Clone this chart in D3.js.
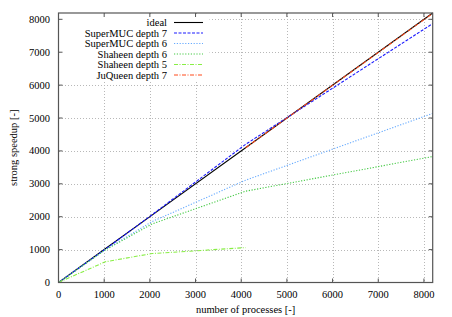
<!DOCTYPE html>
<meta charset="utf-8">
<html>
<head>
<style>
body { margin: 0; background: #fff; }
text { font-family: "Liberation Serif", serif; font-size: 10.5px; fill: #000; }
.grid line { stroke: #b8b8b8; stroke-width: 1; stroke-dasharray: 1,2; shape-rendering: crispEdges; }
.frame { fill: none; stroke: #555; stroke-width: 1.2; }
.tick-mark { stroke: #555; stroke-width: 1; }
.series { fill: none; stroke-width: 1.1; }
</style>
<script src="https://d3js.org/d3.v7.min.js"></script>
</head>
<body>
<svg width="452" height="317"></svg>
<script>
// values
var processes = [1, 1024, 2048, 4096, 8192];
var ideal = [1, 1024, 2048, 4096, 8192];
var superMUC7 = [1, 1010, 2060, 4200, 7870];
var superMUC6 = [1, 1000, 1850, 3110, 5140];
var shaheen6 = [1, 990, 1780, 2775, 3830];
var shaheen5 = [1, 630, 880, 1060];
var juqueenProcs = [4096, 8192];
var juqueen7 = [4096, 8180];
var xTicks = [0, 1000, 2000, 3000, 4000, 5000, 6000, 7000, 8000];
var yTicks = [0, 1000, 2000, 3000, 4000, 5000, 6000, 7000, 8000];

var series = [
  {name: "ideal", x: processes, y: ideal, color: "#000", dash: null},
  {name: "SuperMUC depth 7", x: processes, y: superMUC7, color: "#1a1aff", dash: "3,1.5"},
  {name: "SuperMUC depth 6", x: processes, y: superMUC6, color: "#66aaff", dash: "1.2,1.6"},
  {name: "Shaheen depth 6", x: processes, y: shaheen6, color: "#44c944", dash: "1.2,1.6"},
  {name: "Shaheen depth 5", x: processes, y: shaheen5, color: "#88ee44", dash: "4,1.5,1,1.5"},
  {name: "JuQueen depth 7", x: juqueenProcs, y: juqueen7, color: "#ff4a1a", dash: "4,1.5,1,1.5"}
];

var svg = d3.select("svg");
var pLeft = 58.5, pRight = 432.7, pTop = 13, pBottom = 282.5;

var x = d3.scaleLinear().domain([0, 8192]).range([pLeft, pRight]);
var y = d3.scaleLinear().domain([0, 8192]).range([pBottom, pTop]);

// grid
var grid = svg.append("g").attr("class", "grid");
grid.selectAll(".gx").data(xTicks.slice(1)).enter().append("line")
    .attr("x1", function(d) { return Math.round(x(d)) + 0.5; })
    .attr("x2", function(d) { return Math.round(x(d)) + 0.5; })
    .attr("y1", pTop).attr("y2", pBottom);
grid.selectAll(".gy").data(yTicks.slice(1)).enter().append("line")
    .attr("y1", function(d) { return Math.round(y(d)) + 0.5; })
    .attr("y2", function(d) { return Math.round(y(d)) + 0.5; })
    .attr("x1", pLeft).attr("x2", pRight);

// legend background hides grid
svg.append("rect").attr("x", pLeft + 1).attr("y", pTop + 1)
    .attr("width", 150).attr("height", 67).attr("fill", "#fff");

// tick marks, mirrored on all sides
var tk = svg.append("g");
xTicks.forEach(function(d) {
  tk.append("line").attr("class", "tick-mark").attr("x1", x(d)).attr("x2", x(d)).attr("y1", pBottom).attr("y2", pBottom - 4);
  tk.append("line").attr("class", "tick-mark").attr("x1", x(d)).attr("x2", x(d)).attr("y1", pTop).attr("y2", pTop + 4);
  svg.append("text").attr("x", x(d)).attr("y", pBottom + 15).attr("text-anchor", "middle").text(d);
});
yTicks.forEach(function(d) {
  tk.append("line").attr("class", "tick-mark").attr("x1", pLeft).attr("x2", pLeft + 4).attr("y1", y(d)).attr("y2", y(d));
  tk.append("line").attr("class", "tick-mark").attr("x1", pRight).attr("x2", pRight - 4).attr("y1", y(d)).attr("y2", y(d));
  svg.append("text").attr("x", 50).attr("y", y(d) + 3.5).attr("text-anchor", "end").text(d);
});

// series lines
var line = d3.line();
series.forEach(function(s) {
  var pts = s.y.map(function(v, i) { return [x(s.x[i]), y(v)]; });
  svg.append("path").attr("class", "series")
      .attr("d", line(pts))
      .attr("stroke", s.color)
      .attr("stroke-dasharray", s.dash);
});

// legend
var leg = svg.append("g");
series.forEach(function(s, i) {
  var ly = 22.5 + i * 10.5;
  leg.append("text").attr("x", 167).attr("y", ly + 3.5).attr("text-anchor", "end").text(s.name);
  leg.append("line").attr("x1", 174).attr("x2", 203).attr("y1", ly).attr("y2", ly)
      .attr("stroke", s.color).attr("stroke-width", 1.1).attr("stroke-dasharray", s.dash);
});

svg.append("rect").attr("class", "frame")
    .attr("x", pLeft).attr("y", pTop).attr("width", pRight - pLeft).attr("height", pBottom - pTop);

svg.append("text").attr("x", (pLeft + pRight) / 2).attr("y", 313).attr("text-anchor", "middle")
    .text("number of processes [-]");
svg.append("text").attr("transform", "translate(17," + ((pTop + pBottom) / 2) + ") rotate(-90)")
    .attr("text-anchor", "middle").text("strong speedup [-]");
</script>
</body>
</html>
